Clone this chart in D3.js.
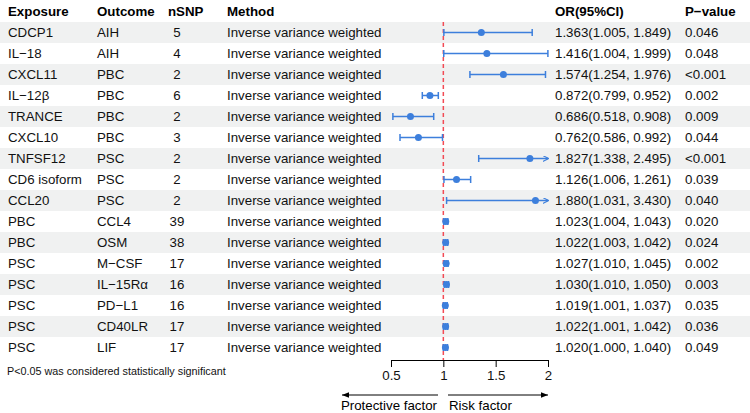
<!DOCTYPE html>
<html>
<head>
<meta charset="utf-8">
<script src="https://cdn.jsdelivr.net/npm/d3@7"></script>
<style>
  body { margin: 0; background: #fff; }
  text { font-family: "Liberation Sans", Arial, sans-serif; }
</style>
</head>
<body>
<div id="chart"></div>
<script>
// Forest plot data
var exposures = ['CDCP1', 'IL\u221218', 'CXCL11', 'IL\u221212\u03b2', 'TRANCE', 'CXCL10', 'TNFSF12', 'CD6 isoform', 'CCL20',
  'PBC', 'PBC', 'PSC', 'PSC', 'PSC', 'PSC', 'PSC'];
var outcomes = ['AIH', 'AIH', 'PBC', 'PBC', 'PBC', 'PBC', 'PSC', 'PSC', 'PSC',
  'CCL4', 'OSM', 'M\u2212CSF', 'IL\u221215R\u03b1', 'PD\u2212L1', 'CD40LR', 'LIF'];
var nsnp = [5, 4, 2, 6, 2, 3, 2, 2, 2, 39, 38, 17, 16, 16, 17, 17];
var orValues = [1.363, 1.416, 1.574, 0.872, 0.686, 0.762, 1.827, 1.126, 1.880, 1.023, 1.022, 1.027, 1.030, 1.019, 1.022, 1.020];
var lower = [1.005, 1.004, 1.254, 0.799, 0.518, 0.586, 1.338, 1.006, 1.031, 1.004, 1.003, 1.010, 1.010, 1.001, 1.001, 1.000];
var upper = [1.849, 1.999, 1.976, 0.952, 0.908, 0.992, 2.495, 1.261, 3.430, 1.043, 1.042, 1.045, 1.050, 1.037, 1.042, 1.040];
var pvalues = ['0.046', '0.048', '<0.001', '0.002', '0.009', '0.044', '<0.001', '0.039', '0.040',
  '0.020', '0.024', '0.002', '0.003', '0.035', '0.036', '0.049'];
var ticks = [0.5, 1, 1.5, 2];

var width = 750;
var height = 413;
var blue = '#3d7fdc';
var fs = 13.3;

var svg = d3.select('#chart')
  .append('svg')
  .attr('width', width)
  .attr('height', height);

var rows = d3.range(exposures.length);
var y = d3.scaleBand()
  .domain(rows)
  .range([22, 22 + 21 * rows.length]);
var x = d3.scaleLinear()
  .domain([0.5, 2])
  .range([391, 548]);

// Striped rows
svg.selectAll('.stripe')
  .data(rows.filter(function (i) { return i % 2 === 0; }))
  .enter()
  .append('rect')
  .attr('class', 'stripe')
  .attr('x', 0)
  .attr('y', function (i) { return y(i); })
  .attr('width', width)
  .attr('height', y.bandwidth())
  .attr('fill', '#f0f1f1');

// Header
var header = [
  { text: 'Exposure', x: 8 },
  { text: 'Outcome', x: 97 },
  { text: 'nSNP', x: 168 },
  { text: 'Method', x: 227 },
  { text: 'OR(95%CI)', x: 555 },
  { text: 'P\u2212value', x: 685 }
];
svg.selectAll('.header')
  .data(header)
  .enter()
  .append('text')
  .attr('class', 'header')
  .attr('x', function (d) { return d.x; })
  .attr('y', 11)
  .attr('dy', '0.35em')
  .attr('font-size', fs)
  .attr('font-weight', 'bold')
  .text(function (d) { return d.text; });

// Table columns
var fmt = d3.format('.3f');
var columns = [
  { x: 8, anchor: 'start', value: function (i) { return exposures[i]; } },
  { x: 97, anchor: 'start', value: function (i) { return outcomes[i]; } },
  { x: 177, anchor: 'middle', value: function (i) { return nsnp[i]; } },
  { x: 227, anchor: 'start', value: function () { return 'Inverse variance weighted'; } },
  { x: 555, anchor: 'start', value: function (i) {
    return fmt(orValues[i]) + '(' + fmt(lower[i]) + ', ' + fmt(upper[i]) + ')';
  } },
  { x: 685, anchor: 'start', value: function (i) { return pvalues[i]; } }
];
columns.forEach(function (col) {
  svg.append('g')
    .selectAll('text')
    .data(rows)
    .enter()
    .append('text')
    .attr('x', col.x)
    .attr('y', function (i) { return y(i) + y.bandwidth() / 2; })
    .attr('dy', '0.35em')
    .attr('text-anchor', col.anchor)
    .attr('font-size', fs)
    .attr('fill', '#111')
    .text(col.value);
});

// Reference line
svg.append('line')
  .attr('x1', x(1))
  .attr('x2', x(1))
  .attr('y1', y(0))
  .attr('y2', 360)
  .attr('stroke', '#f24b55')
  .attr('stroke-width', 1.5)
  .attr('stroke-dasharray', '4,3');

// Arrow markers
var defs = svg.append('defs');
defs.append('marker')
  .attr('id', 'blueArrow')
  .attr('viewBox', '0 0 10 10')
  .attr('refX', 9)
  .attr('refY', 5)
  .attr('markerWidth', 6)
  .attr('markerHeight', 6)
  .attr('markerUnits', 'userSpaceOnUse')
  .attr('orient', 'auto')
  .append('path')
  .attr('d', 'M0,0 L10,5 L0,10')
  .attr('fill', 'none')
  .attr('stroke', blue)
  .attr('stroke-width', 2);
defs.append('marker')
  .attr('id', 'blackArrow')
  .attr('viewBox', '0 0 10 10')
  .attr('refX', 10)
  .attr('refY', 5)
  .attr('markerWidth', 7)
  .attr('markerHeight', 7)
  .attr('markerUnits', 'userSpaceOnUse')
  .attr('orient', 'auto')
  .append('path')
  .attr('d', 'M0,1 L10,5 L0,9 Z')
  .attr('fill', '#000');

// CI bars
var xmax = x.domain()[1];
var ci = svg.append('g').attr('stroke', blue).attr('stroke-width', 1.5);
rows.forEach(function (i) {
  var cy = y(i) + y.bandwidth() / 2;
  var clipped = upper[i] > xmax;
  var hi = clipped ? xmax : upper[i];
  var line = ci.append('line')
    .attr('x1', x(lower[i]))
    .attr('x2', x(hi))
    .attr('y1', cy)
    .attr('y2', cy);
  if (clipped) {
    line.attr('marker-end', 'url(#blueArrow)');
  }
  ci.append('line')
    .attr('x1', x(lower[i])).attr('x2', x(lower[i]))
    .attr('y1', cy - 3.5).attr('y2', cy + 3.5);
  if (!clipped) {
    ci.append('line')
      .attr('x1', x(hi)).attr('x2', x(hi))
      .attr('y1', cy - 3.5).attr('y2', cy + 3.5);
  }
});

svg.selectAll('.dot')
  .data(rows)
  .enter()
  .append('circle')
  .attr('class', 'dot')
  .attr('cx', function (i) { return x(orValues[i]); })
  .attr('cy', function (i) { return y(i) + y.bandwidth() / 2; })
  .attr('r', 3.5)
  .attr('fill', blue);

// Axis
var axis = svg.append('g')
  .attr('transform', 'translate(0,360)')
  .call(d3.axisBottom(x)
    .tickValues(ticks)
    .tickFormat(d3.format('~g'))
    .tickSize(7)
    .tickSizeOuter(0)
    .tickPadding(4));
axis.select('.domain').attr('stroke', '#000');
axis.selectAll('.tick line').attr('stroke', '#000');
axis.selectAll('.tick text')
  .attr('font-size', fs)
  .attr('font-family', '"Liberation Sans", Arial, sans-serif')
  .attr('fill', '#111');

// Direction arrows
svg.append('line')
  .attr('x1', 438).attr('x2', 342)
  .attr('y1', 395).attr('y2', 395)
  .attr('stroke', '#000').attr('stroke-width', 1)
  .attr('marker-end', 'url(#blackArrow)');
svg.append('line')
  .attr('x1', 448).attr('x2', 548)
  .attr('y1', 395).attr('y2', 395)
  .attr('stroke', '#000').attr('stroke-width', 1)
  .attr('marker-end', 'url(#blackArrow)');
svg.append('text')
  .attr('x', 437).attr('y', 410)
  .attr('text-anchor', 'end')
  .attr('font-size', fs)
  .text('Protective factor');
svg.append('text')
  .attr('x', 449).attr('y', 410)
  .attr('font-size', fs)
  .text('Risk factor');

// Footnote
svg.append('text')
  .attr('x', 7).attr('y', 371)
  .attr('dy', '0.35em')
  .attr('font-size', 10.8)
  .attr('fill', '#111')
  .text('P<0.05 was considered statistically significant');
</script>
</body>
</html>
